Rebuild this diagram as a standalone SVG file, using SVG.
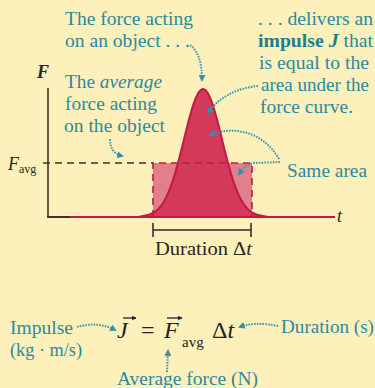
<svg xmlns="http://www.w3.org/2000/svg" width="375" height="388" viewBox="0 0 375 388">
<defs>
<style>
.lbl{font-family:"Liberation Serif","Times New Roman",Times,serif;font-size:18.5px;fill:#2a8aa0}
.blk{font-family:"Liberation Serif","Times New Roman",Times,serif;fill:#2a2622}
.eq{font-family:"Liberation Serif","Times New Roman",Times,serif;font-size:24px;fill:#222}
.sub{font-family:"Liberation Serif","Times New Roman",Times,serif;font-size:15px;fill:#222}
.dot{fill:none;stroke:#3a98ae;stroke-width:2;stroke-dasharray:1.6 1.2;marker-end:url(#ah)}
.dash{fill:none;stroke-width:1.6;stroke-dasharray:7 5}
</style>
<marker id="ah" viewBox="0 0 10 10" refX="7" refY="5" markerUnits="userSpaceOnUse" markerWidth="7" markerHeight="7" orient="auto">
<path d="M0,0 L10,5 L0,10 z" fill="#2f93ab"/>
</marker>
<marker id="va" viewBox="0 0 10 10" refX="9" refY="5" markerUnits="userSpaceOnUse" markerWidth="5" markerHeight="5" orient="auto">
<path d="M0,0 L10,5 L0,10 z" fill="#222"/>
</marker>
</defs>
<rect width="375" height="388" fill="#fdf0ba"/>

<g id="graph">
<rect x="153" y="163" width="99" height="54" fill="#e17f8a"/>
<path d="M138,217 L143,216.1 L148,215.1 L153,213 L155.5,211.4 L158,209.3 L160.5,206.5 L163,203 L165.5,198.7 L168,193.5 L170.5,187.4 L173,180.2 L175.5,172.1 L178,163.1 L180.5,153.5 L183,143.4 L185.5,133.2 L188,123.3 L190.5,113.9 L193,105.6 L195.5,98.6 L198,93.4 L200.5,90.1 L203,89 L205.5,90.1 L208,93.4 L210.5,98.6 L213,105.6 L215.5,113.9 L218,123.3 L220.5,133.2 L223,143.4 L225.5,153.5 L228,163.1 L230.5,172.1 L233,180.2 L235.5,187.4 L238,193.5 L240.5,198.7 L243,203 L245.5,206.5 L248,209.3 L250.5,211.4 L253,213 L258,215.1 L263,216.1 L268,217 Z" fill="#d3395a" stroke="#c21843" stroke-width="2" stroke-linejoin="round"/>
<path class="dash" d="M153,217 V163 H252 V217" stroke="#c21843"/>
<path class="dash" d="M43,163 H153" stroke="#3a3226"/>
<line x1="48" y1="88" x2="48" y2="217.5" stroke="#3a3226" stroke-width="1.6"/>
<line x1="47.2" y1="217" x2="70" y2="217" stroke="#3a3226" stroke-width="2"/>
<line x1="70" y1="217" x2="335" y2="217" stroke="#c8193f" stroke-width="2.2"/>
<text class="blk" x="37" y="78" font-size="18" font-style="italic" font-weight="bold">F</text>
<text class="blk" x="337" y="222" font-size="18" font-style="italic">t</text>
<text class="blk" x="8" y="170" font-size="18" font-style="italic">F<tspan font-size="12" font-style="normal" dy="3">avg</tspan></text>
</g>

<g id="bracket">
<line x1="153" y1="230" x2="251" y2="230" stroke="#2a2622" stroke-width="1.5"/>
<line x1="153" y1="223" x2="153" y2="237" stroke="#2a2622" stroke-width="1.5"/>
<line x1="251" y1="223" x2="251" y2="237" stroke="#2a2622" stroke-width="1.5"/>
<text class="blk" x="155" y="255" font-size="18.5" textLength="97" lengthAdjust="spacingAndGlyphs">Duration Δ<tspan font-style="italic">t</tspan></text>
</g>

<g id="label-force">
<text class="lbl" x="65" y="25" textLength="128" lengthAdjust="spacingAndGlyphs">The force acting</text>
<text class="lbl" x="65" y="47" textLength="125" lengthAdjust="spacingAndGlyphs">on an object . . .</text>
</g>
<g id="label-impulse">
<text class="lbl" x="258" y="25" textLength="115" lengthAdjust="spacingAndGlyphs">. . . delivers an</text>
<text class="lbl" x="258" y="47" textLength="115" lengthAdjust="spacingAndGlyphs"><tspan font-weight="bold" fill="#1f7c93">impulse <tspan font-style="italic">J</tspan></tspan> that</text>
<text class="lbl" x="259" y="69" textLength="110" lengthAdjust="spacingAndGlyphs">is equal to the</text>
<text class="lbl" x="261" y="91" textLength="108" lengthAdjust="spacingAndGlyphs">area under the</text>
<text class="lbl" x="260" y="113" textLength="93" lengthAdjust="spacingAndGlyphs">force curve.</text>
</g>
<g id="label-average">
<text class="lbl" x="65" y="88" textLength="97" lengthAdjust="spacingAndGlyphs">The <tspan font-style="italic">average</tspan></text>
<text class="lbl" x="65" y="110" textLength="92" lengthAdjust="spacingAndGlyphs">force acting</text>
<text class="lbl" x="64" y="132" textLength="101" lengthAdjust="spacingAndGlyphs">on the object</text>
</g>
<g id="label-same">
<text class="lbl" x="287" y="177" textLength="80" lengthAdjust="spacingAndGlyphs">Same area</text>
</g>

<g id="equation">
<text class="eq" x="117" y="338" font-style="italic">J</text>
<line x1="123" y1="318" x2="136" y2="318" stroke="#222" stroke-width="1.3" marker-end="url(#va)"/>
<text class="eq" x="141" y="338">=</text>
<text class="eq" x="164" y="338" font-style="italic">F</text>
<line x1="167" y1="318" x2="182" y2="318" stroke="#222" stroke-width="1.3" marker-end="url(#va)"/>
<text class="sub" x="182" y="347">avg</text>
<text class="eq" x="212" y="338">Δ<tspan font-style="italic">t</tspan></text>
</g>
<g id="label-impulse-unit">
<text class="lbl" x="10" y="334" textLength="63" lengthAdjust="spacingAndGlyphs">Impulse</text>
<text class="lbl" x="10" y="356" textLength="72" lengthAdjust="spacingAndGlyphs">(kg · m/s)</text>
</g>
<g id="label-duration">
<text class="lbl" x="281" y="333" textLength="93" lengthAdjust="spacingAndGlyphs">Duration (s)</text>
</g>
<g id="label-avgforce">
<text class="lbl" x="117" y="385" textLength="141" lengthAdjust="spacingAndGlyphs">Average force (N)</text>
</g>

<g id="connectors">
<path class="dot" d="M190,45 C198,51 202,62 202,80"/>
<path class="dot" d="M258,86 C236,88 218,98 208,113"/>
<path class="dot" d="M279,159 C262,130 232,126 210,135"/>
<path class="dot" d="M280,162 L254,163 C247,164 243,168 239,174"/>
<path class="dot" d="M110,139 C110,148 114,154 122,156"/>
<path class="dot" d="M77,327 C90,323 104,324 115,330"/>
<path class="dot" d="M278,326 C264,323 250,323 240,327"/>
<path class="dot" d="M167,372 L168,351"/>
</g>
</svg>
